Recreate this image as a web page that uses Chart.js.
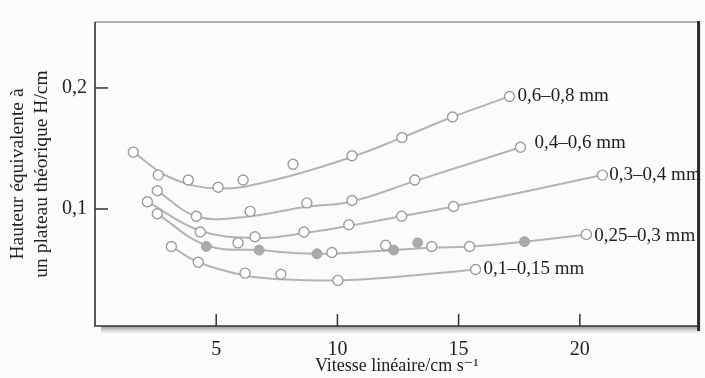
<!DOCTYPE html>
<html>
<head>
<meta charset="utf-8">
<script src="https://cdn.jsdelivr.net/npm/chart.js@4/dist/chart.umd.min.js"></script>
<style>
  body { margin: 0; background: #fbfbfa; }
  canvas { display: block; }
</style>
</head>
<body>
<canvas id="plateChart" width="705" height="378"></canvas>
<script>
// -------- DATA --------
const seriesLabels = ["0,6–0,8 mm", "0,4–0,6 mm", "0,3–0,4 mm", "0,25–0,3 mm", "0,1–0,15 mm"];

// measured points (open circles)
const s1X = [1.58, 2.61, 3.85, 5.08, 6.11, 8.17, 10.6, 12.66, 14.75, 17.1];
const s1Y = [0.147, 0.128, 0.124, 0.118, 0.124, 0.137, 0.144, 0.159, 0.176, 0.193];
const s2X = [2.57, 4.18, 6.4, 8.74, 10.6, 13.19, 17.55];
const s2Y = [0.115, 0.094, 0.098, 0.105, 0.107, 0.124, 0.151];
const s3X = [2.16, 4.34, 6.6, 8.62, 10.47, 12.65, 14.79, 20.93];
const s3Y = [0.106, 0.081, 0.077, 0.081, 0.087, 0.094, 0.102, 0.128];
const s4X = [2.57, 5.9, 9.77, 11.99, 13.89, 15.45, 20.27];
const s4Y = [0.096, 0.072, 0.064, 0.070, 0.069, 0.069, 0.079];
const s5X = [3.15, 4.26, 6.19, 7.67, 10.02, 15.7];
const s5Y = [0.069, 0.056, 0.047, 0.046, 0.041, 0.050];

// 0,25-0,3 mm filled circles
const s4FillX = [4.59, 6.77, 9.16, 12.32, 13.31, 17.72];
const s4FillY = [0.069, 0.066, 0.063, 0.066, 0.072, 0.073];

// smoothed curves
const c1X = [1.58, 3.1, 5.08, 7.4, 10.6, 12.66, 14.75, 17.1];
const c1Y = [0.147, 0.126, 0.117, 0.124, 0.143, 0.159, 0.176, 0.193];
const c2X = [2.57, 4.18, 6.0, 8.78, 10.56, 13.19, 17.55];
const c2Y = [0.115, 0.094, 0.093, 0.102, 0.106, 0.123, 0.151];
const c3X = [2.16, 4.34, 6.6, 8.62, 10.47, 12.65, 14.79, 20.93];
const c3Y = [0.106, 0.082, 0.076, 0.080, 0.086, 0.094, 0.102, 0.128];
const c4X = [2.57, 4.59, 6.77, 9.16, 11.5, 13.9, 15.45, 17.72, 20.27];
const c4Y = [0.096, 0.070, 0.066, 0.063, 0.065, 0.068, 0.069, 0.073, 0.079];
const c5X = [3.15, 4.26, 6.19, 7.67, 10.02, 12.53, 15.7];
const c5Y = [0.069, 0.056, 0.045, 0.042, 0.041, 0.044, 0.050];

const xTicks = [5, 10, 15, 20];
const yTicks = [0.1, 0.2];

// -------- BUILD DATASETS --------
const pts = (xs, ys) => xs.map((x, i) => ({ x: x, y: ys[i] }));

const curveColor = "#b4b4b4";
const markColor = "#9c9c9c";
const serif = "'Liberation Serif', 'DejaVu Serif', serif";

const curves = [[c1X, c1Y], [c2X, c2Y], [c3X, c3Y], [c4X, c4Y], [c5X, c5Y]];
const marks = [[s1X, s1Y], [s2X, s2Y], [s3X, s3Y], [s4X, s4Y], [s5X, s5Y]];

const datasets = [];
curves.forEach((c, i) => {
  datasets.push({
    label: seriesLabels[i] + " curve",
    data: pts(c[0], c[1]),
    showLine: true,
    borderColor: curveColor,
    borderWidth: 2,
    tension: 0.4,
    pointRadius: 0,
    order: 3
  });
});
marks.forEach((m, i) => {
  datasets.push({
    label: seriesLabels[i],
    data: pts(m[0], m[1]),
    showLine: false,
    pointRadius: 5,
    pointBackgroundColor: "#ffffff",
    pointBorderColor: markColor,
    pointBorderWidth: 1.4,
    order: 1,
    endLabel: i
  });
});
datasets.push({
  label: seriesLabels[3] + " (filled)",
  data: pts(s4FillX, s4FillY),
  showLine: false,
  pointRadius: 5,
  pointBackgroundColor: "#a9a9a9",
  pointBorderColor: "#a9a9a9",
  pointBorderWidth: 1,
  order: 1
});

// -------- FRAME / TICKS / LABELS PLUGIN --------
const labelOffsets = [[8, 0], [14, -4], [7, 0], [8, 2], [8, 0]];

const figurePlugin = {
  id: "figure",
  beforeDatasetsDraw(chart) {
    const { ctx, chartArea: a } = chart;
    // shadow under the bottom axis
    const g = ctx.createLinearGradient(0, a.bottom, 0, a.bottom + 8);
    g.addColorStop(0, "rgba(110,110,110,0.75)");
    g.addColorStop(1, "rgba(160,160,160,0)");
    ctx.save();
    ctx.fillStyle = g;
    ctx.fillRect(a.left + 6, a.bottom, a.right - a.left - 6, 8);
    ctx.restore();
  },
  afterDatasetsDraw(chart) {
    const { ctx, chartArea: a, scales } = chart;
    ctx.save();
    // top border
    ctx.strokeStyle = "#6a6a6a";
    ctx.lineWidth = 1.2;
    ctx.beginPath();
    ctx.moveTo(a.left, a.top);
    ctx.lineTo(a.right, a.top);
    ctx.stroke();
    // left + bottom axes
    ctx.strokeStyle = "#333";
    ctx.lineWidth = 1.6;
    ctx.beginPath();
    ctx.moveTo(a.left, a.top);
    ctx.lineTo(a.left, a.bottom);
    ctx.lineTo(a.right, a.bottom);
    ctx.stroke();
    // right border
    ctx.strokeStyle = "#2a2a2a";
    ctx.lineWidth = 3;
    ctx.beginPath();
    ctx.moveTo(a.right, a.top - 1);
    ctx.lineTo(a.right, a.bottom + 5);
    ctx.stroke();
    // inward ticks
    ctx.strokeStyle = "#333";
    ctx.lineWidth = 1.5;
    xTicks.forEach(v => {
      const px = scales.x.getPixelForValue(v);
      ctx.beginPath();
      ctx.moveTo(px, a.bottom);
      ctx.lineTo(px, a.bottom - 12);
      ctx.stroke();
    });
    yTicks.forEach(v => {
      const py = scales.y.getPixelForValue(v);
      ctx.beginPath();
      ctx.moveTo(a.left, py);
      ctx.lineTo(a.left + 13, py);
      ctx.stroke();
    });
    // series labels at the end of each series
    ctx.fillStyle = "#1e1e1e";
    ctx.font = "19px " + serif;
    ctx.textBaseline = "middle";
    ctx.textAlign = "left";
    chart.data.datasets.forEach((ds) => {
      if (ds.endLabel === undefined) return;
      const last = ds.data[ds.data.length - 1];
      const off = labelOffsets[ds.endLabel];
      const px = scales.x.getPixelForValue(last.x) + off[0];
      const py = scales.y.getPixelForValue(last.y) + off[1];
      ctx.fillText(seriesLabels[ds.endLabel], px, py);
    });
    ctx.restore();
  }
};

// -------- CHART --------
const ctx = document.getElementById("plateChart").getContext("2d");
const chart = new Chart(ctx, {
  type: "scatter",
  data: { datasets },
  options: {
    responsive: false,
    animation: false,
    layout: { padding: { top: 22, right: 5, left: 0, bottom: 0 } },
    plugins: {
      legend: { display: false },
      tooltip: { enabled: false }
    },
    scales: {
      x: {
        type: "linear",
        min: 0,
        max: 24.9,
        grid: { display: false },
        border: { display: false },
        afterBuildTicks: (s) => { s.ticks = xTicks.map(v => ({ value: v })); },
        afterFit: (s) => { s.height = 52; },
        ticks: {
          padding: 4,
          color: "#222",
          font: { family: serif, size: 20 }
        },
        title: {
          display: true,
          text: "Vitesse linéaire/cm s⁻¹",
          color: "#222",
          font: { family: serif, size: 18, lineHeight: 1.2 },
          padding: { top: 0, bottom: 1 }
        }
      },
      y: {
        type: "linear",
        min: 0.0033,
        max: 0.2545,
        grid: { display: false },
        border: { display: false },
        afterBuildTicks: (s) => { s.ticks = yTicks.map(v => ({ value: v })); },
        afterFit: (s) => { s.width = 95; },
        ticks: {
          padding: 0,
          color: "#222",
          font: { family: serif, size: 20 },
          callback: (v) => String(v).replace(".", ",")
        },
        title: {
          display: true,
          text: ["Hauteur équivalente à", "un plateau théorique H/cm"],
          color: "#222",
          font: { family: serif, size: 19.5, lineHeight: 1.23 },
          padding: { top: 6, bottom: 0 }
        }
      }
    }
  },
  plugins: [figurePlugin]
});
</script>
</body>
</html>
